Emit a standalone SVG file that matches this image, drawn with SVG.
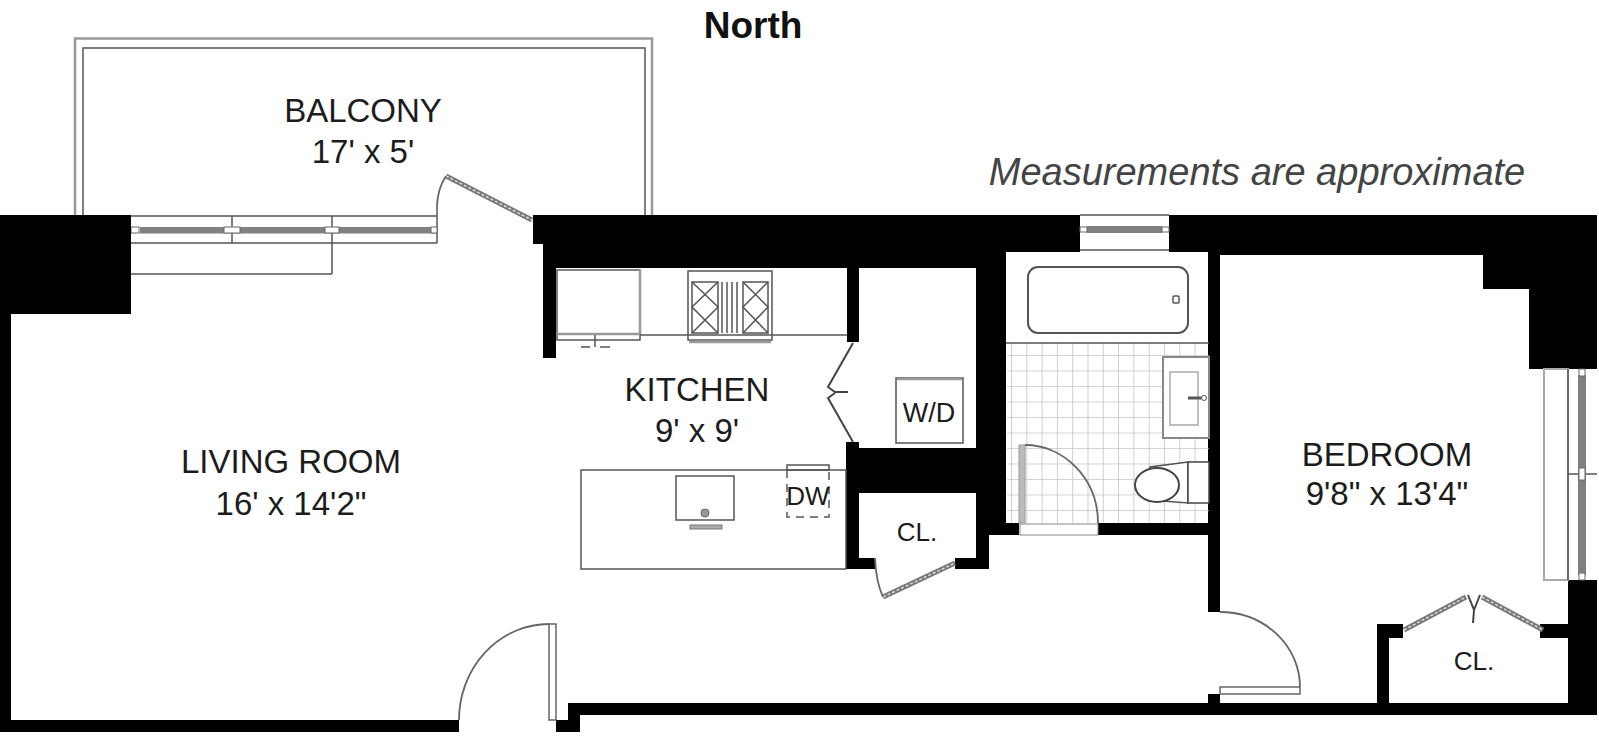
<svg xmlns="http://www.w3.org/2000/svg" width="1599" height="753" viewBox="0 0 1599 753">
<defs>
<pattern id="tile" patternUnits="userSpaceOnUse" x="1011" y="355" width="15.3" height="15.5">
<path d="M0,0V15.5M0,0H15.3" fill="none" stroke="#c4c4c4" stroke-width="1.6"/>
</pattern>
</defs>
<style>
text{font-family:"Liberation Sans",Arial,sans-serif;fill:#1c1c1c;text-anchor:middle}
.room{font-size:33px}
.small{font-size:26px}
.wall{fill:#000}
.l{fill:none;stroke:#555;stroke-width:1.5}
.d{fill:none;stroke:#444;stroke-width:2}
.g{fill:none;stroke:#999;stroke-width:2.5}
.glass{fill:#808080}
.leaf{fill:#fff;stroke:#666;stroke-width:1.5}
.hatch{fill:none;stroke:#777;stroke-width:5}
.hatch2{fill:none;stroke:#ddd;stroke-width:1.5;stroke-dasharray:3 2}
.arc{fill:none;stroke:#666;stroke-width:1.8}
</style>
<rect width="1599" height="753" fill="#fff"/>

<g id="balcony">
<path class="g" d="M75,215V38.500H652V215" stroke-width="2"/>
<path class="l" d="M83,215V48H645V215"/>
<path class="l" d="M131,216H437M131,243H437M437,205V243M232,216V243M332,216V274M131,274H332" />
<rect class="glass" x="140" y="227" width="297" height="6.500"/>
<g fill="#fff" stroke="#666" stroke-width="1"><rect x="131" y="227" width="8" height="6"/><rect x="224" y="227" width="16" height="6"/><rect x="325" y="227" width="14" height="6"/><rect x="431" y="227" width="6" height="6"/></g>
<path class="hatch" d="M446,176L532,220"/>
<path class="hatch2" d="M446,176L532,220"/>
<path class="arc" d="M437,205Q438,188 446,176"/>
<text class="room" x="363" y="122">BALCONY</text>
<text class="room" x="363" y="163">17' x 5'</text>
</g>

<g id="walls">
<path class="wall" d="M0,215H131V314H11V720H459V732H0Z"/>
<path class="wall" d="M533,215H1080V252H1006V523H1019V535H989V569H955V558H976V493H859V558H875V569H846V442H859V448H976V268H859V342H847V268H556V358H543V244H533Z"/>
<path class="wall" d="M1169,215H1597V369H1529V289H1483V255H1220V612H1208V252H1169Z"/>
<rect class="wall" x="1098" y="523" width="111" height="12"/>
<rect class="wall" x="1208" y="694" width="12" height="9"/>
<path class="wall" d="M556,720H568V703H1377V624H1403V638H1389V703H1568V638H1540V624H1568V580H1597V715H580V732H556Z"/>
</g>

<g id="living-room">
<text class="room" x="291" y="473">LIVING ROOM</text>
<text class="room" x="291" y="515">16' x 14'2"</text>
<rect class="leaf" x="549" y="624" width="7" height="96"/>
<path class="arc" d="M459,720A90,96 0 0 1 549,624"/>
</g>

<g id="kitchen">
<rect class="l" x="557" y="270" width="83" height="70"/>
<path class="g" d="M640,270V335M557,334H640" stroke-width="3"/>
<path class="l" d="M595,335V347M581,347H590M600,347H610"/>
<path class="l" d="M640,335H847"/>
<g id="range">
<rect class="l" x="688" y="271" width="84" height="69"/>
<path class="g" d="M689,342H771"/>
<rect class="l" x="692" y="282" width="26" height="51"/>
<rect class="l" x="743" y="282" width="25" height="51"/>
<path class="l" d="M692,282L718,307L692,333M718,282L692,307L718,333M743,282L768,307L743,333M768,282L743,307L768,333"/>
<path class="l" stroke="#888" d="M722,282V333M727,282V333M732,282V333M737,282V333"/>
</g>
<path class="d" stroke-width="2.500" d="M853,343L828,387L835,392H848M835,393L828,398L853,442" />
<g id="washer-dryer">
<rect class="l" x="896" y="378" width="67" height="65"/>
<path class="g" d="M897,379H962" stroke-width="4"/>
<text class="small" x="929" y="422" style="font-size:27px">W/D</text>
</g>
<g id="island">
<rect class="l" x="581" y="470" width="265" height="99"/>
<rect class="l" x="676" y="476" width="58" height="44"/>
<circle cx="705" cy="513" r="4" fill="#999" stroke="#666"/>
<rect x="690" y="525" width="32" height="4" fill="#aaa" stroke="#777"/>
<rect class="l" x="787" y="465" width="42" height="5"/>
<path class="l" stroke-dasharray="8 6" d="M787,470V517H829V470"/>
<text class="small" x="808" y="505">DW</text>
</g>
<text class="room" x="697" y="401">KITCHEN</text>
<text class="room" x="697" y="442">9' x 9'</text>
</g>

<g id="kitchen-closet">
<text class="small" x="917" y="541">CL.</text>
<path class="hatch" d="M883,597L955,563"/>
<path class="hatch2" d="M883,597L955,563"/>
<path class="arc" d="M875,558Q876,582 883,597"/>
</g>

<g id="bathroom">
<rect x="1007" y="343" width="202" height="180" fill="url(#tile)"/>
<path class="l" d="M1080,215H1169M1080,250H1169M1006,343H1209"/>
<rect class="glass" x="1087" y="226" width="75" height="7"/>
<g fill="#fff" stroke="#666" stroke-width="1"><rect x="1080" y="227" width="7" height="5"/><rect x="1162" y="227" width="7" height="5"/></g>
<rect x="1028" y="267" width="160" height="66" rx="10" fill="none" stroke="#555" stroke-width="2"/>
<rect class="l" x="1173" y="296" width="6" height="7" rx="1"/>
<rect x="1163" y="357" width="46" height="81" fill="#fff" stroke="#888" stroke-width="2"/>
<rect x="1170" y="372" width="28" height="53" fill="#fff" stroke="#aaa" stroke-width="1.500"/>
<path d="M1188,398H1201" stroke="#555" stroke-width="3"/>
<circle cx="1204" cy="398" r="2.500" fill="#fff" stroke="#555"/>
<path fill="#fff" stroke="#555" stroke-width="1.500" d="M1188,462L1150,467L1150,500L1188,503Z"/>
<ellipse cx="1157" cy="485" rx="22" ry="17" fill="#fff" stroke="#444" stroke-width="2"/>
<rect x="1188" y="462" width="21" height="41" fill="#fff" stroke="#444" stroke-width="1.500"/>
<rect x="1019" y="445" width="6" height="78" fill="#bbb" stroke="#999"/>
<path class="arc" d="M1025,445A73,78 0 0 1 1098,523"/>
<rect x="1020" y="524" width="78" height="11" fill="#fff" stroke="#888"/>
</g>

<g id="bedroom">
<rect x="1544" y="369" width="24" height="211" fill="none" stroke="#aaa" stroke-width="2"/>
<path class="l" d="M1568,369V580M1568,474H1597"/>
<rect class="glass" x="1578" y="375" width="8" height="200"/>
<g fill="#fff" stroke="#666" stroke-width="1"><rect x="1579" y="369" width="6" height="7"/><rect x="1579" y="468" width="6" height="12"/><rect x="1579" y="573" width="6" height="7"/></g>
<path class="arc" d="M1220,612A80,75 0 0 1 1300,687"/>
<rect class="leaf" x="1220" y="687" width="80" height="7"/>
<text class="room" x="1387" y="466">BEDROOM</text>
<text class="room" x="1387" y="505">9'8" x 13'4"</text>
</g>

<g id="bedroom-closet">
<path class="hatch" d="M1404,630L1466,597M1482,597L1543,630"/>
<path class="hatch2" d="M1404,630L1466,597M1482,597L1543,630"/>
<path class="d" stroke-width="1.500" d="M1468,595L1474,610L1473,623M1474,610L1480,595"/>
<text class="small" x="1474" y="670">CL.</text>
</g>

<g id="labels">
<text x="753" y="38" style="font-size:37px;font-weight:bold;fill:#111">North</text>
<text x="1257" y="185" style="font-size:38px;font-style:italic;fill:#444">Measurements are approximate</text>
</g>
</svg>
